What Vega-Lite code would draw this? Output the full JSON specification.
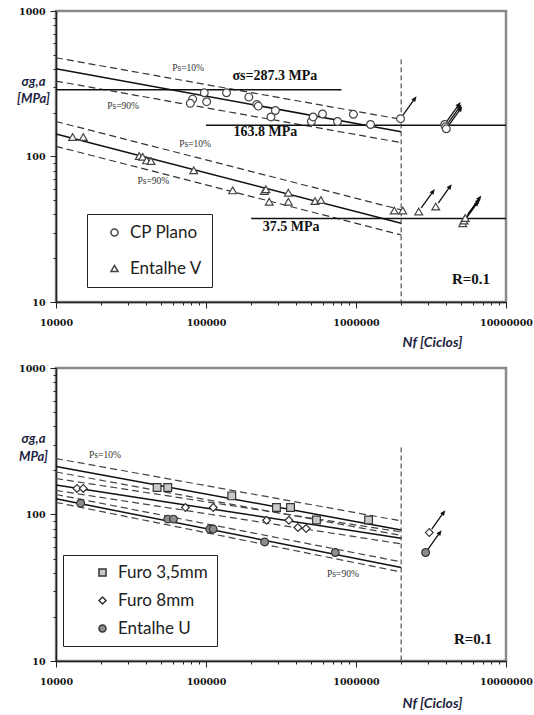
{
  "$schema": "https://vega.github.io/schema/vega-lite/v6.json",
  "padding": {"left": 15, "top": 4, "right": 0, "bottom": 0},
  "spacing": 10,
  "background": "white",
  "config": {
    "view": {"stroke": "#8a8a8a", "strokeWidth": 2.5},
    "axis": {
      "grid": false,
      "domainColor": "#222",
      "domainWidth": 1.5,
      "tickColor": "#222",
      "tickWidth": 1,
      "labelFont": "DejaVu Serif",
      "labelFontWeight": "bold",
      "labelFontSize": 9.5,
      "labelColor": "#111",
      "labelOverlap": false,
      "labelFlush": false,
      "format": "d",
      "titleColor": "#1c2340"
    }
  },
  "resolve": {"scale": {"shape": "independent", "fill": "independent", "x": "independent", "y": "independent"}, "legend": {"shape": "independent", "fill": "independent"}},
  "datasets": {
    "pts": [
      {"panel": "A", "series": "CP Plano", "N": 81500, "S": 248, "runout": false},
      {"panel": "A", "series": "CP Plano", "N": 78600, "S": 232, "runout": false},
      {"panel": "A", "series": "CP Plano", "N": 97400, "S": 274, "runout": false},
      {"panel": "A", "series": "CP Plano", "N": 101000, "S": 238, "runout": false},
      {"panel": "A", "series": "CP Plano", "N": 137000, "S": 274, "runout": false},
      {"panel": "A", "series": "CP Plano", "N": 193000, "S": 256, "runout": false},
      {"panel": "A", "series": "CP Plano", "N": 218000, "S": 228, "runout": false},
      {"panel": "A", "series": "CP Plano", "N": 223000, "S": 222, "runout": false},
      {"panel": "A", "series": "CP Plano", "N": 271000, "S": 187, "runout": false},
      {"panel": "A", "series": "CP Plano", "N": 290000, "S": 207, "runout": false},
      {"panel": "A", "series": "CP Plano", "N": 504000, "S": 174, "runout": false},
      {"panel": "A", "series": "CP Plano", "N": 518000, "S": 187, "runout": false},
      {"panel": "A", "series": "CP Plano", "N": 598000, "S": 196, "runout": false},
      {"panel": "A", "series": "CP Plano", "N": 753000, "S": 174, "runout": false},
      {"panel": "A", "series": "CP Plano", "N": 961000, "S": 195, "runout": false},
      {"panel": "A", "series": "CP Plano", "N": 1250000, "S": 166, "runout": false},
      {"panel": "A", "series": "CP Plano", "N": 1980000, "S": 182, "runout": true},
      {"panel": "A", "series": "CP Plano", "N": 3900000, "S": 166, "runout": true},
      {"panel": "A", "series": "CP Plano", "N": 3950000, "S": 160, "runout": true},
      {"panel": "A", "series": "CP Plano", "N": 4000000, "S": 155, "runout": true},
      {"panel": "A", "series": "Entalhe V", "N": 12900, "S": 136, "runout": false},
      {"panel": "A", "series": "Entalhe V", "N": 15200, "S": 136, "runout": false},
      {"panel": "A", "series": "Entalhe V", "N": 35900, "S": 100.8, "runout": false},
      {"panel": "A", "series": "Entalhe V", "N": 37800, "S": 99.5, "runout": false},
      {"panel": "A", "series": "Entalhe V", "N": 40200, "S": 94, "runout": false},
      {"panel": "A", "series": "Entalhe V", "N": 43000, "S": 93, "runout": false},
      {"panel": "A", "series": "Entalhe V", "N": 82800, "S": 80.3, "runout": false},
      {"panel": "A", "series": "Entalhe V", "N": 150600, "S": 58.5, "runout": false},
      {"panel": "A", "series": "Entalhe V", "N": 245000, "S": 58, "runout": false},
      {"panel": "A", "series": "Entalhe V", "N": 251000, "S": 59.5, "runout": false},
      {"panel": "A", "series": "Entalhe V", "N": 264000, "S": 48.9, "runout": false},
      {"panel": "A", "series": "Entalhe V", "N": 354000, "S": 56.4, "runout": false},
      {"panel": "A", "series": "Entalhe V", "N": 354000, "S": 48.9, "runout": false},
      {"panel": "A", "series": "Entalhe V", "N": 533000, "S": 49.4, "runout": false},
      {"panel": "A", "series": "Entalhe V", "N": 584000, "S": 50.2, "runout": false},
      {"panel": "A", "series": "Entalhe V", "N": 1800000, "S": 42.5, "runout": false},
      {"panel": "A", "series": "Entalhe V", "N": 2050000, "S": 42.5, "runout": false},
      {"panel": "A", "series": "Entalhe V", "N": 2620000, "S": 41.9, "runout": true},
      {"panel": "A", "series": "Entalhe V", "N": 3400000, "S": 45.3, "runout": true},
      {"panel": "A", "series": "Entalhe V", "N": 5150000, "S": 34.8, "runout": true},
      {"panel": "A", "series": "Entalhe V", "N": 5250000, "S": 36.3, "runout": true},
      {"panel": "A", "series": "Entalhe V", "N": 5350000, "S": 37.8, "runout": true},
      {"panel": "B", "series": "Furo 3,5mm", "N": 47200, "S": 153, "runout": false},
      {"panel": "B", "series": "Furo 3,5mm", "N": 55600, "S": 153, "runout": false},
      {"panel": "B", "series": "Furo 3,5mm", "N": 148500, "S": 134, "runout": false},
      {"panel": "B", "series": "Furo 3,5mm", "N": 295000, "S": 111.7, "runout": false},
      {"panel": "B", "series": "Furo 3,5mm", "N": 366000, "S": 111.7, "runout": false},
      {"panel": "B", "series": "Furo 3,5mm", "N": 545000, "S": 91.8, "runout": false},
      {"panel": "B", "series": "Furo 3,5mm", "N": 1213000, "S": 91.8, "runout": false},
      {"panel": "B", "series": "Furo 8mm", "N": 13800, "S": 150.7, "runout": false},
      {"panel": "B", "series": "Furo 8mm", "N": 15200, "S": 150.7, "runout": false},
      {"panel": "B", "series": "Furo 8mm", "N": 72900, "S": 111.7, "runout": false},
      {"panel": "B", "series": "Furo 8mm", "N": 111800, "S": 111.7, "runout": false},
      {"panel": "B", "series": "Furo 8mm", "N": 253600, "S": 91.4, "runout": false},
      {"panel": "B", "series": "Furo 8mm", "N": 357000, "S": 91.4, "runout": false},
      {"panel": "B", "series": "Furo 8mm", "N": 410000, "S": 81.5, "runout": false},
      {"panel": "B", "series": "Furo 8mm", "N": 465000, "S": 80.2, "runout": false},
      {"panel": "B", "series": "Furo 8mm", "N": 3080000, "S": 75.3, "runout": true},
      {"panel": "B", "series": "Entalhe U", "N": 14600, "S": 119.5, "runout": false},
      {"panel": "B", "series": "Entalhe U", "N": 55600, "S": 93, "runout": false},
      {"panel": "B", "series": "Entalhe U", "N": 60700, "S": 93, "runout": false},
      {"panel": "B", "series": "Entalhe U", "N": 106000, "S": 79.5, "runout": false},
      {"panel": "B", "series": "Entalhe U", "N": 111700, "S": 79.5, "runout": false},
      {"panel": "B", "series": "Entalhe U", "N": 246000, "S": 65, "runout": false},
      {"panel": "B", "series": "Entalhe U", "N": 728000, "S": 55, "runout": false},
      {"panel": "B", "series": "Entalhe U", "N": 2910000, "S": 55, "runout": true}
    ],
    "lines": [
      {"panel": "A", "id": "cp_fit", "kind": "fit", "N": 10000, "S": 401},
      {"panel": "A", "id": "cp_fit", "kind": "fit", "N": 2000000, "S": 148},
      {"panel": "A", "id": "cp_10", "kind": "band", "N": 10000, "S": 477},
      {"panel": "A", "id": "cp_10", "kind": "band", "N": 2000000, "S": 180},
      {"panel": "A", "id": "cp_90", "kind": "band", "N": 10000, "S": 330},
      {"panel": "A", "id": "cp_90", "kind": "band", "N": 2000000, "S": 124.5},
      {"panel": "A", "id": "v_fit", "kind": "fit", "N": 10000, "S": 142.6},
      {"panel": "A", "id": "v_fit", "kind": "fit", "N": 2000000, "S": 34.8},
      {"panel": "A", "id": "v_10", "kind": "band", "N": 10000, "S": 174},
      {"panel": "A", "id": "v_10", "kind": "band", "N": 2000000, "S": 43},
      {"panel": "A", "id": "v_90", "kind": "band", "N": 10000, "S": 117.5},
      {"panel": "A", "id": "v_90", "kind": "band", "N": 2000000, "S": 28.9},
      {"panel": "A", "id": "sig_s", "kind": "fit", "N": 10000, "S": 287.3},
      {"panel": "A", "id": "sig_s", "kind": "fit", "N": 800000, "S": 287.3},
      {"panel": "A", "id": "cp_lim", "kind": "fit", "N": 100000, "S": 163.8},
      {"panel": "A", "id": "cp_lim", "kind": "fit", "N": 10000000, "S": 163.8},
      {"panel": "A", "id": "v_lim", "kind": "fit", "N": 200000, "S": 37.5},
      {"panel": "A", "id": "v_lim", "kind": "fit", "N": 10000000, "S": 37.5},
      {"panel": "A", "id": "vline", "kind": "vline", "N": 2000000, "S": 465},
      {"panel": "A", "id": "vline", "kind": "vline", "N": 2000000, "S": 10},
      {"panel": "B", "id": "f35_fit", "kind": "fit", "N": 10000, "S": 213},
      {"panel": "B", "id": "f35_fit", "kind": "fit", "N": 2000000, "S": 78.5},
      {"panel": "B", "id": "f35_10", "kind": "band", "N": 10000, "S": 241},
      {"panel": "B", "id": "f35_10", "kind": "band", "N": 2000000, "S": 90.4},
      {"panel": "B", "id": "f35_90", "kind": "band", "N": 10000, "S": 195},
      {"panel": "B", "id": "f35_90", "kind": "band", "N": 2000000, "S": 72},
      {"panel": "B", "id": "f8_fit", "kind": "fit", "N": 10000, "S": 159},
      {"panel": "B", "id": "f8_fit", "kind": "fit", "N": 2000000, "S": 68.9},
      {"panel": "B", "id": "f8_10", "kind": "band", "N": 10000, "S": 176},
      {"panel": "B", "id": "f8_10", "kind": "band", "N": 2000000, "S": 76},
      {"panel": "B", "id": "f8_90", "kind": "band", "N": 10000, "S": 146},
      {"panel": "B", "id": "f8_90", "kind": "band", "N": 2000000, "S": 63},
      {"panel": "B", "id": "u_fit", "kind": "fit", "N": 10000, "S": 128},
      {"panel": "B", "id": "u_fit", "kind": "fit", "N": 2000000, "S": 43.5},
      {"panel": "B", "id": "u_10", "kind": "band", "N": 10000, "S": 137},
      {"panel": "B", "id": "u_10", "kind": "band", "N": 2000000, "S": 47.5},
      {"panel": "B", "id": "u_90", "kind": "band", "N": 10000, "S": 121},
      {"panel": "B", "id": "u_90", "kind": "band", "N": 2000000, "S": 40.5},
      {"panel": "B", "id": "vline", "kind": "vline", "N": 2000000, "S": 287},
      {"panel": "B", "id": "vline", "kind": "vline", "N": 2000000, "S": 10}
    ],
    "labels": [
      {"panel": "A", "type": "limit", "text": "σs=287.3 MPa", "N": 288000, "S": 356},
      {"panel": "A", "type": "limit", "text": "163.8 MPa", "N": 249000, "S": 148},
      {"panel": "A", "type": "limit", "text": "37.5 MPa", "N": 370000, "S": 33},
      {"panel": "A", "type": "ps", "text": "Ps=10%", "N": 75900, "S": 403},
      {"panel": "A", "type": "ps", "text": "Ps=90%", "N": 28000, "S": 223},
      {"panel": "A", "type": "ps", "text": "Ps=10%", "N": 84500, "S": 122},
      {"panel": "A", "type": "ps", "text": "Ps=90%", "N": 44600, "S": 67.6},
      {"panel": "A", "type": "r", "text": "R=0.1", "N": 5840000, "S": 14.3},
      {"panel": "B", "type": "ps", "text": "Ps=10%", "N": 21200, "S": 254},
      {"panel": "B", "type": "ps", "text": "Ps=90%", "N": 818000, "S": 39.1},
      {"panel": "B", "type": "r", "text": "R=0.1", "N": 6030000, "S": 14.2}
    ]
  },
  "vconcat": [
    {
      "width": 450,
      "height": 291,
      "encoding": {
        "x": {"field": "N", "type": "quantitative",
          "scale": {"type": "log", "domain": [10000, 10000000], "nice": false},
          "axis": {
            "values": [10000, 20000, 30000, 40000, 50000, 60000, 70000, 80000, 90000, 100000, 200000, 300000, 400000, 500000, 600000, 700000, 800000, 900000, 1000000, 2000000, 3000000, 4000000, 5000000, 6000000, 7000000, 8000000, 9000000, 10000000],
            "labelExpr": "indexof([10000,100000,1000000,10000000], datum.value) >= 0 ? datum.label : ''",
            "tickSize": {"condition": {"test": "indexof([10000,100000,1000000,10000000], datum.value) >= 0", "value": 6}, "value": 3},
            "labelPadding": 9,
            "title": "Nf [Ciclos]",
            "titleX": 376, "titleY": 40, "titleAlign": "center", "titleBaseline": "middle",
            "titleFont": "Lato", "titleFontSize": 14, "titleFontStyle": "italic", "titleFontWeight": "bold"
          }
        },
        "y": {"field": "S", "type": "quantitative",
          "scale": {"type": "log", "domain": [10, 1000], "nice": false},
          "axis": {
            "values": [10, 20, 30, 40, 50, 60, 70, 80, 90, 100, 200, 300, 400, 500, 600, 700, 800, 900, 1000],
            "labelExpr": "indexof([10,100,1000], datum.value) >= 0 ? datum.label : ''",
            "tickSize": {"condition": {"test": "indexof([10,100,1000], datum.value) >= 0", "value": 6}, "value": 3},
            "labelPadding": 5,
            "title": ["σg,a", "[MPa]"],
            "titleAngle": 0, "titleX": -23, "titleY": 70, "titleAlign": "center", "titleBaseline": "middle",
            "titleFont": "Lato", "titleFontSize": 13, "titleFontWeight": "bold", "titleFontStyle": "italic", "titleLineHeight": 17
          }
        }
      },
      "layer": [
        {"data": {"name": "lines"}, "transform": [{"filter": "datum.panel == 'A' && datum.kind == 'band'"}],
          "mark": {"type": "line", "stroke": "#333", "strokeWidth": 1.2, "strokeDash": [7, 4]},
          "encoding": {"detail": {"field": "id"}}},
        {"data": {"name": "lines"}, "transform": [{"filter": "datum.panel == 'A' && datum.kind == 'fit'"}],
          "mark": {"type": "line", "stroke": "#111", "strokeWidth": 1.5},
          "encoding": {"detail": {"field": "id"}}},
        {"data": {"name": "lines"}, "transform": [{"filter": "datum.panel == 'A' && datum.kind == 'vline'"}],
          "mark": {"type": "line", "stroke": "#333", "strokeWidth": 1, "strokeDash": [5, 3]},
          "encoding": {"detail": {"field": "id"}}},
        {"data": {"name": "pts"}, "transform": [{"filter": "datum.panel == 'A' && datum.runout"}],
          "mark": {"type": "point", "shape": "M2.5,-3.5L14,-19.7", "size": 4, "filled": false, "stroke": "#111", "strokeWidth": 1.3, "opacity": 1}},
        {"data": {"name": "pts"}, "transform": [{"filter": "datum.panel == 'A' && datum.runout"}],
          "mark": {"type": "point", "shape": "M16,-22.4L14.7,-16.6L10.9,-19.2Z", "size": 4, "filled": true, "fill": "#111", "opacity": 1}},
        {"data": {"name": "pts"}, "transform": [{"filter": "datum.panel == 'A'"}],
          "mark": {"type": "point", "filled": true, "fill": "white", "stroke": "#444", "strokeWidth": 1.2, "size": 60, "opacity": 1},
          "encoding": {
            "shape": {"field": "series", "type": "nominal",
              "scale": {"domain": ["CP Plano", "Entalhe V"], "range": ["circle", "triangle-up"]},
              "legend": {"orient": "none", "legendX": 31, "legendY": 203, "title": null,
                "strokeColor": "#222", "fillColor": "white", "padding": 10, "rowPadding": 18,
                "labelFont": "Lato", "labelFontSize": 17, "labelColor": "#222", "labelOffset": 7,
                "symbolOffset": 9, "symbolSize": 50,
                "encode": {"symbols": {"update": {"fill": {"value": "white"}, "stroke": {"value": "#444"}, "strokeWidth": {"value": 1.2}, "opacity": {"value": 1}}}}}}
          }},
        {"data": {"name": "labels"}, "transform": [{"filter": "datum.panel == 'A' && datum.type == 'limit'"}],
          "mark": {"type": "text", "font": "Liberation Serif", "fontWeight": "bold", "fontSize": 14, "color": "#111"},
          "encoding": {"text": {"field": "text"}}},
        {"data": {"name": "labels"}, "transform": [{"filter": "datum.panel == 'A' && datum.type == 'ps'"}],
          "mark": {"type": "text", "font": "Liberation Serif", "fontSize": 9.5, "color": "#333"},
          "encoding": {"text": {"field": "text"}}},
        {"data": {"name": "labels"}, "transform": [{"filter": "datum.panel == 'A' && datum.type == 'r'"}],
          "mark": {"type": "text", "font": "Liberation Serif", "fontWeight": "bold", "fontSize": 15, "color": "#111"},
          "encoding": {"text": {"field": "text"}}}
      ]
    },
    {
      "width": 450,
      "height": 293,
      "encoding": {
        "x": {"field": "N", "type": "quantitative",
          "scale": {"type": "log", "domain": [10000, 10000000], "nice": false},
          "axis": {
            "values": [10000, 20000, 30000, 40000, 50000, 60000, 70000, 80000, 90000, 100000, 200000, 300000, 400000, 500000, 600000, 700000, 800000, 900000, 1000000, 2000000, 3000000, 4000000, 5000000, 6000000, 7000000, 8000000, 9000000, 10000000],
            "labelExpr": "indexof([10000,100000,1000000,10000000], datum.value) >= 0 ? datum.label : ''",
            "tickSize": {"condition": {"test": "indexof([10000,100000,1000000,10000000], datum.value) >= 0", "value": 6}, "value": 3},
            "labelPadding": 9,
            "title": "Nf [Ciclos]",
            "titleX": 376, "titleY": 42, "titleAlign": "center", "titleBaseline": "middle",
            "titleFont": "Lato", "titleFontSize": 14, "titleFontStyle": "italic", "titleFontWeight": "bold"
          }
        },
        "y": {"field": "S", "type": "quantitative",
          "scale": {"type": "log", "domain": [10, 1000], "nice": false},
          "axis": {
            "values": [10, 20, 30, 40, 50, 60, 70, 80, 90, 100, 200, 300, 400, 500, 600, 700, 800, 900, 1000],
            "labelExpr": "indexof([10,100,1000], datum.value) >= 0 ? datum.label : ''",
            "tickSize": {"condition": {"test": "indexof([10,100,1000], datum.value) >= 0", "value": 6}, "value": 3},
            "labelPadding": 5,
            "title": ["σg,a", "MPa]"],
            "titleAngle": 0, "titleX": -23, "titleY": 70, "titleAlign": "center", "titleBaseline": "middle",
            "titleFont": "Lato", "titleFontSize": 13, "titleFontWeight": "bold", "titleFontStyle": "italic", "titleLineHeight": 18
          }
        }
      },
      "layer": [
        {"data": {"name": "lines"}, "transform": [{"filter": "datum.panel == 'B' && datum.kind == 'band'"}],
          "mark": {"type": "line", "stroke": "#444", "strokeWidth": 1.2, "strokeDash": [7, 4]},
          "encoding": {"detail": {"field": "id"}}},
        {"data": {"name": "lines"}, "transform": [{"filter": "datum.panel == 'B' && datum.kind == 'fit'"}],
          "mark": {"type": "line", "stroke": "#111", "strokeWidth": 1.5},
          "encoding": {"detail": {"field": "id"}}},
        {"data": {"name": "lines"}, "transform": [{"filter": "datum.panel == 'B' && datum.kind == 'vline'"}],
          "mark": {"type": "line", "stroke": "#333", "strokeWidth": 1, "strokeDash": [5, 3]},
          "encoding": {"detail": {"field": "id"}}},
        {"data": {"name": "pts"}, "transform": [{"filter": "datum.panel == 'B' && datum.runout"}],
          "mark": {"type": "point", "shape": "M2.5,-3.5L14,-19.7", "size": 4, "filled": false, "stroke": "#111", "strokeWidth": 1.3, "opacity": 1}},
        {"data": {"name": "pts"}, "transform": [{"filter": "datum.panel == 'B' && datum.runout"}],
          "mark": {"type": "point", "shape": "M16,-22.4L14.7,-16.6L10.9,-19.2Z", "size": 4, "filled": true, "fill": "#111", "opacity": 1}},
        {"data": {"name": "pts"}, "transform": [{"filter": "datum.panel == 'B'"}],
          "mark": {"type": "point", "filled": true, "stroke": "#333", "strokeWidth": 1.2, "size": 60, "opacity": 1},
          "encoding": {
            "shape": {"field": "series", "type": "nominal",
              "scale": {"domain": ["Furo 3,5mm", "Furo 8mm", "Entalhe U"], "range": ["square", "diamond", "circle"]},
              "legend": {"orient": "none", "legendX": 7, "legendY": 187, "title": null,
                "strokeColor": "#222", "fillColor": "white", "padding": 9, "rowPadding": 10,
                "labelFont": "Lato", "labelFontSize": 17, "labelColor": "#222", "labelOffset": 7,
                "symbolOffset": 22, "symbolSize": 50,
                "encode": {"symbols": {"update": {"stroke": {"value": "#333"}, "strokeWidth": {"value": 1.2}, "opacity": {"value": 1}}}}}},
            "fill": {"field": "series", "type": "nominal",
              "scale": {"domain": ["Furo 3,5mm", "Furo 8mm", "Entalhe U"], "range": ["#c9c9c9", "#ffffff", "#8c8c8c"]},
              "legend": {"orient": "none", "legendX": 7, "legendY": 187, "title": null,
                "strokeColor": "#222", "fillColor": "white", "padding": 9, "rowPadding": 10,
                "labelFont": "Lato", "labelFontSize": 17, "labelColor": "#222", "labelOffset": 7,
                "symbolOffset": 22, "symbolSize": 50,
                "encode": {"symbols": {"update": {"stroke": {"value": "#333"}, "strokeWidth": {"value": 1.2}, "opacity": {"value": 1}}}}}}
          }},
        {"data": {"name": "labels"}, "transform": [{"filter": "datum.panel == 'B' && datum.type == 'ps'"}],
          "mark": {"type": "text", "font": "Liberation Serif", "fontSize": 9.5, "color": "#333"},
          "encoding": {"text": {"field": "text"}}},
        {"data": {"name": "labels"}, "transform": [{"filter": "datum.panel == 'B' && datum.type == 'r'"}],
          "mark": {"type": "text", "font": "Liberation Serif", "fontWeight": "bold", "fontSize": 15, "color": "#111"},
          "encoding": {"text": {"field": "text"}}}
      ]
    }
  ]
}
